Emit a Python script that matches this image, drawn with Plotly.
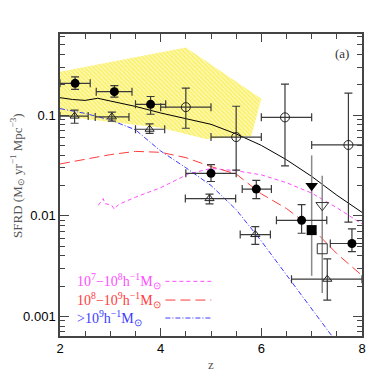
import plotly.graph_objects as go

# --- shaded observational band (z, SFRD) ---
band_z = [2.0, 4.5, 6.0, 5.8, 4.9, 4.0, 2.0]
band_sfrd = [0.27, 0.47, 0.145, 0.062, 0.058, 0.075, 0.098]

# --- model curves ---
total_z = [2.0, 2.25, 2.5, 2.75, 3.0, 3.5, 4.0, 4.5, 5.0, 5.5, 6.0, 6.5, 7.0, 7.5, 8.0]
total_sfrd = [0.149, 0.143, 0.140, 0.147, 0.138, 0.122, 0.105, 0.093, 0.081, 0.065,
              0.050, 0.036, 0.0246, 0.016, 0.0108]

low_z = [2.76, 2.86, 2.89, 3.02, 3.08, 3.16, 3.5, 4.0, 4.55, 5.0, 5.5, 6.0, 6.5, 7.0, 7.5, 8.0]
low_sfrd = [0.0127, 0.0148, 0.0132, 0.0128, 0.0116, 0.0129, 0.0153, 0.019, 0.026, 0.0295,
            0.028, 0.0255, 0.0213, 0.0168, 0.012, 0.0083]

mid_z = [2.0, 2.5, 3.0, 3.5, 4.0, 4.5, 5.0, 5.5, 6.0, 6.5, 7.0, 7.5, 8.0]
mid_sfrd = [0.0327, 0.0362, 0.0405, 0.0436, 0.0427, 0.0378, 0.0308, 0.026, 0.0165,
            0.0118, 0.0076, 0.0042, 0.00255]

high_z = [2.0, 2.5, 3.0, 3.5, 4.0, 4.5, 5.0, 5.5, 6.0, 6.5, 7.0, 7.4]
high_sfrd = [0.116, 0.104, 0.0894, 0.0714, 0.044, 0.030, 0.020, 0.0115, 0.0056,
             0.0026, 0.0012, 0.00064]

# --- data points ---
fc_z = [2.3, 3.08, 3.8, 5.0, 5.9, 6.8, 7.8]
fc_sfrd = [0.207, 0.171, 0.128, 0.0264, 0.0184, 0.0090, 0.0053]
fc_hi = [0.24, 0.196, 0.153, 0.0322, 0.0225, 0.0129, 0.0074]
fc_lo = [0.18, 0.151, 0.102, 0.0219, 0.0148, 0.0067, 0.0044]
fc_xm = [0.3, 0.36, 0.3, 0.5, 0.28, 0.5, 0.43]
fc_xp = [0.3, 0.35, 0.3, 0.5, 0.3, 0.5, 0.45]

oc_z = [4.5, 5.5, 6.47, 7.73]
oc_sfrd = [0.12, 0.0605, 0.095, 0.0505]
oc_hi = [0.185, 0.1225, 0.203, 0.165]
oc_lo = [0.074, 0.0284, 0.0313, 0.00865]
oc_xm = [0.5, 0.5, 0.47, 0.73]
oc_xp = [0.5, 0.5, 0.53, 0.8]

ot_z = [2.29, 3.03, 3.78, 4.97, 5.88, 7.31]
ot_sfrd = [0.0978, 0.096, 0.0724, 0.0148, 0.0065, 0.00234]
ot_hi = [0.112, 0.107, 0.0817, 0.0164, 0.00778, 0.00373]
ot_lo = [0.083, 0.087, 0.0658, 0.0131, 0.00519, 0.00145]
ot_xm = [0.29, 0.33, 0.28, 0.48, 0.3, 0.71]
ot_xp = [0.27, 0.34, 0.3, 0.52, 0.3, 0.69]

fs_z = [7.0]
fs_sfrd = [0.0072]
fs_hi = [0.0398]
fs_lo = [0.00253]
os_z = [7.21]
os_sfrd = [0.0047]
os_hi = [0.025]
os_lo = [0.00171]

fd_z = [7.0]
fd_sfrd = [0.0199]
od_z = [7.21]
od_sfrd = [0.0127]

legend_labels = [
    "10<sup>7</sup>\u221210<sup>8</sup>h<sup>\u22121</sup>M<sub>\u2299</sub>",
    "10<sup>8</sup>\u221210<sup>9</sup>h<sup>\u22121</sup>M<sub>\u2299</sub>",
    "&gt;10<sup>9</sup>h<sup>\u22121</sup>M<sub>\u2299</sub>",
]

MAGENTA = "#ff4dff"
RED = "#ff3b3b"
BLUE = "#3b3bff"
ERR = "#3a3a3a"
GREY = "#8a8a8a"


def yerr(vals, hi, lo):
    return dict(type="data", symmetric=False,
                array=[h - v for h, v in zip(hi, vals)],
                arrayminus=[v - l for v, l in zip(vals, lo)],
                color=ERR, thickness=1.2, width=4)


def xerr(xp, xm):
    return dict(type="data", symmetric=False, array=xp, arrayminus=xm,
                color=ERR, thickness=1.2, width=4)


fig = go.Figure()

fig.add_trace(go.Scatter(
    x=band_z, y=band_sfrd, mode="lines", fill="toself",
    line=dict(width=0), fillcolor="white",
    fillpattern=dict(shape="\\", fgcolor="#f5e600", bgcolor="#fffde0",
                     size=3, solidity=0.75),
    hoverinfo="skip",
))

fig.add_trace(go.Scatter(x=total_z, y=total_sfrd, mode="lines",
                         line=dict(color="black", width=1)))
fig.add_trace(go.Scatter(x=low_z, y=low_sfrd, mode="lines",
                         line=dict(color=MAGENTA, width=1, dash="4px,3px")))
fig.add_trace(go.Scatter(x=mid_z, y=mid_sfrd, mode="lines",
                         line=dict(color=RED, width=1, dash="10px,5px")))
fig.add_trace(go.Scatter(x=high_z, y=high_sfrd, mode="lines",
                         line=dict(color=BLUE, width=1, dash="5px,2px,1px,2px")))

# squares carry the grey vertical error bars at z~7
sq_err = dict(color=GREY, thickness=1.5, width=0)
fig.add_trace(go.Scatter(
    x=fs_z, y=fs_sfrd, mode="markers",
    marker=dict(symbol="square", size=10, color="black"),
    error_y=dict(yerr(fs_sfrd, fs_hi, fs_lo), **sq_err),
))
fig.add_trace(go.Scatter(
    x=os_z, y=os_sfrd, mode="markers",
    marker=dict(symbol="square-open", size=10, color="#333333", line=dict(width=1)),
    error_y=dict(yerr(os_sfrd, os_hi, os_lo), **sq_err),
))
fig.add_trace(go.Scatter(
    x=fd_z, y=fd_sfrd, mode="markers",
    marker=dict(symbol="triangle-down", size=11, color="black"),
))
fig.add_trace(go.Scatter(
    x=od_z, y=od_sfrd, mode="markers",
    marker=dict(symbol="triangle-down-open", size=11, color="#333333", line=dict(width=1)),
))

fig.add_trace(go.Scatter(
    x=ot_z, y=ot_sfrd, mode="markers",
    marker=dict(symbol="triangle-up-open", size=8, color="#222222", line=dict(width=1)),
    error_y=yerr(ot_sfrd, ot_hi, ot_lo), error_x=xerr(ot_xp, ot_xm),
))
fig.add_trace(go.Scatter(
    x=oc_z, y=oc_sfrd, mode="markers",
    marker=dict(symbol="circle-open", size=9, color="#222222", line=dict(width=1)),
    error_y=yerr(oc_sfrd, oc_hi, oc_lo), error_x=xerr(oc_xp, oc_xm),
))
fig.add_trace(go.Scatter(
    x=fc_z, y=fc_sfrd, mode="markers",
    marker=dict(symbol="circle", size=9, color="black"),
    error_y=yerr(fc_sfrd, fc_hi, fc_lo), error_x=xerr(fc_xp, fc_xm),
))

# legend drawn inside the panel: text on the left, line sample on the right
legend_rows = [(0.181, MAGENTA, "4px,3px"), (0.119, RED, "10px,5px"),
               (0.0595, BLUE, "5px,2px,1px,2px")]
for label, (ypos, color, dash) in zip(legend_labels, legend_rows):
    fig.add_annotation(xref="paper", yref="paper", x=0.05, y=ypos,
                       xanchor="left", yanchor="middle", showarrow=False,
                       text=label,
                       font=dict(family="Liberation Serif", size=14, color=color))
    fig.add_shape(type="line", xref="paper", yref="paper",
                  x0=0.349, x1=0.501, y0=ypos, y1=ypos,
                  line=dict(color=color, width=1, dash=dash))

fig.add_annotation(xref="paper", yref="paper", x=0.965, y=0.935,
                   xanchor="right", yanchor="middle", showarrow=False,
                   text="(a)", font=dict(family="Liberation Serif", size=13, color="#333333"))

fig.add_annotation(xref="paper", yref="paper", x=0, y=0.53, xshift=-43,
                   textangle=-90, showarrow=False, xanchor="center", yanchor="middle",
                   text="SFRD (M<sub>\u2299</sub> yr<sup>\u22121</sup> Mpc<sup>\u22123</sup>)",
                   font=dict(family="Liberation Serif", size=13, color="#555555"))

minor_y = [m * 10 ** e for e in (-4, -3, -2, -1) for m in range(2, 10)]

axis_common = dict(showline=True, linecolor="#444444", linewidth=1.5, mirror="ticks",
                   ticks="inside", tickcolor="#444444", showgrid=False, zeroline=False,
                   tickfont=dict(family="Liberation Sans", size=13, color="black"))

fig.update_layout(
    width=374, height=374,
    margin=dict(l=52, r=20, t=26, b=41),
    paper_bgcolor="white", plot_bgcolor="white",
    showlegend=False,
    xaxis=dict(axis_common, range=[2, 8], tick0=2, dtick=2, ticklen=8,
               minor=dict(dtick=0.5, ticklen=5, ticks="inside", tickcolor="#444444"),
               title=dict(text="z", standoff=5,
                          font=dict(family="Liberation Serif", size=13, color="#555555"))),
    yaxis=dict(axis_common, type="log", range=[-3.195, -0.194],
               tickvals=[0.001, 0.01, 0.1], ticktext=["0.001", "0.01", "0.1"], ticklen=9,
               minor=dict(tickvals=minor_y, ticklen=5, ticks="inside", tickcolor="#444444")),
)

fig.write_html("out.html")
